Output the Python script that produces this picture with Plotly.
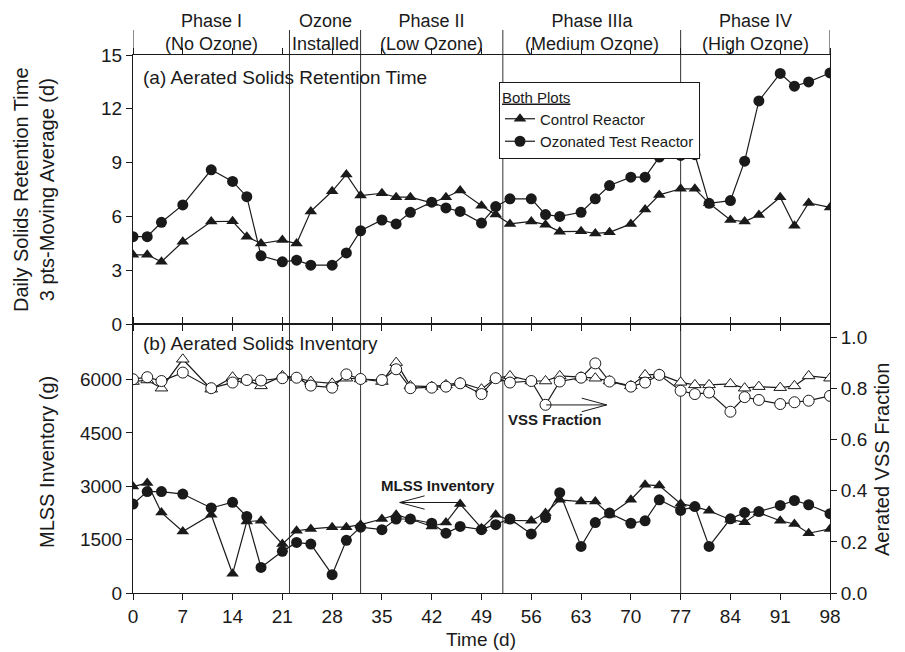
import plotly.graph_objects as go

# ---------------- data ----------------
days = [0, 2, 4, 7, 11, 14, 16, 18, 21, 23, 25, 28, 30, 32, 35, 37, 39, 42, 44, 46, 49,
        51, 53, 56, 58, 60, 63, 65, 67, 70, 72, 74, 77, 79, 81, 84, 86, 88, 91, 93, 95, 98]

srt_control = [3.86, 3.86, 3.47, 4.59, 5.71, 5.73, 4.87, 4.49, 4.68, 4.49, 6.28, 7.40, 8.34, 7.16,
               7.29, 7.07, 7.07, 6.75, 7.07, 7.44, 6.60, 6.10, 5.58, 5.72, 5.54, 5.15, 5.17, 5.05,
               5.11, 5.58, 6.38, 7.20, 7.54, 7.54, 6.73, 5.80, 5.71, 6.08, 7.07, 5.48, 6.75, 6.50]
srt_ozone = [4.87, 4.87, 5.67, 6.64, 8.60, 7.95, 7.10, 3.80, 3.47, 3.56, 3.28, 3.28, 3.96, 5.20,
             5.80, 5.58, 6.23, 6.79, 6.47, 6.28, 5.63, 6.55, 6.98, 6.98, 6.10, 6.00, 6.23, 6.98,
             7.72, 8.19, 8.19, 9.31, 9.40, 9.44, 6.73, 6.88, 9.08, 12.44, 13.97, 13.26, 13.50, 14.00]

mlss_control = [2990, 3090, 2260, 1730, 2200, 540, 2010, 2030, 1375, 1750, 1800, 1850, 1850, 1920,
                2080, 2200, 2080, 1870, 1980, 2500, 1820, 2200, 2040, 2030, 2245, 2620, 2570, 2570,
                2200, 2620, 3040, 3020, 2510, 2430, 2310, 2060, 1990, 2260, 2030, 1940, 1680, 1800]
mlss_ozone = [2500, 2850, 2850, 2780, 2390, 2550, 2150, 720, 1170, 1420, 1375, 515, 1480, 1850,
              1780, 2080, 2080, 1960, 1680, 1870, 1780, 1920, 2080, 1660, 2120, 2820, 1310, 1980,
              2245, 1960, 2030, 2620, 2320, 2430, 1310, 2085, 2260, 2290, 2460, 2600, 2480, 2230]

vss_control = [0.827, 0.833, 0.801, 0.914, 0.797, 0.844, 0.833, 0.810, 0.849, 0.842, 0.827, 0.820,
               0.840, 0.837, 0.827, 0.901, 0.810, 0.807, 0.814, 0.823, 0.797, 0.840, 0.849, 0.829,
               0.829, 0.849, 0.844, 0.840, 0.829, 0.810, 0.853, 0.855, 0.824, 0.814, 0.814, 0.818,
               0.801, 0.807, 0.803, 0.810, 0.849, 0.840]
vss_ozone = [0.836, 0.844, 0.829, 0.862, 0.801, 0.823, 0.833, 0.831, 0.840, 0.842, 0.811, 0.803,
             0.855, 0.837, 0.833, 0.875, 0.801, 0.803, 0.807, 0.820, 0.778, 0.840, 0.823, 0.829,
             0.736, 0.827, 0.842, 0.898, 0.827, 0.807, 0.823, 0.853, 0.791, 0.778, 0.784, 0.709,
             0.766, 0.755, 0.739, 0.746, 0.752, 0.771]

x_ticks = list(range(0, 99, 7))
phase_bounds = [22, 32, 52, 77]
phase_labels = ["Phase I<br>(No Ozone)", "Ozone<br>Installed", "Phase II<br>(Low Ozone)",
                "Phase IIIa<br>(Medium Ozone)", "Phase IV<br>(High Ozone)"]
phase_edges = [0, 22, 32, 52, 77, 98]

# ---------------- style ----------------
FONT = "Liberation Sans, Arial, Helvetica, sans-serif"
INK = "#1a1a1a"
W, H = 905, 652
ML, MR, MT, MB = 133, 75, 55, 59
PH = H - MT - MB

def py(pix):
    """pixel row -> paper y"""
    return (H - MB - pix) / PH

def px(pix):
    return (pix - ML) / (W - ML - MR)

line_style = dict(color=INK, width=1.2)

fig = go.Figure()

fig.add_trace(go.Scatter(x=days, y=srt_control, mode="lines+markers", name="Control Reactor",
                         line=line_style, marker=dict(symbol="triangle-up", size=11, color=INK),
                         xaxis="x", yaxis="y"))
fig.add_trace(go.Scatter(x=days, y=srt_ozone, mode="lines+markers", name="Ozonated Test Reactor",
                         line=line_style, marker=dict(symbol="circle", size=11, color=INK),
                         xaxis="x", yaxis="y"))

fig.add_trace(go.Scatter(x=days, y=vss_control, mode="lines+markers", showlegend=False,
                         line=line_style,
                         marker=dict(symbol="triangle-up", size=11, color="white",
                                     line=dict(color=INK, width=1)),
                         xaxis="x2", yaxis="y3"))
fig.add_trace(go.Scatter(x=days, y=vss_ozone, mode="lines+markers", showlegend=False,
                         line=line_style,
                         marker=dict(symbol="circle", size=11, color="white",
                                     line=dict(color=INK, width=1)),
                         xaxis="x2", yaxis="y3"))
fig.add_trace(go.Scatter(x=days, y=mlss_control, mode="lines+markers", showlegend=False,
                         line=line_style, marker=dict(symbol="triangle-up", size=11, color=INK),
                         xaxis="x2", yaxis="y2"))
fig.add_trace(go.Scatter(x=days, y=mlss_ozone, mode="lines+markers", showlegend=False,
                         line=line_style, marker=dict(symbol="circle", size=11, color=INK),
                         xaxis="x2", yaxis="y2"))

axis_common = dict(showgrid=False, zeroline=False, showline=True, linecolor=INK, linewidth=1,
                   ticks="outside", ticklen=6, tickwidth=1, tickcolor=INK,
                   tickfont=dict(family=FONT, size=19, color=INK))

fig.update_layout(
    width=W, height=H,
    margin=dict(l=ML, r=MR, t=MT, b=MB),
    paper_bgcolor="white", plot_bgcolor="white",
    font=dict(family=FONT, color=INK),
    xaxis=dict(axis_common, domain=[0, 1], anchor="y", range=[0, 98], tickvals=x_ticks,
               showticklabels=False, mirror="ticks"),
    yaxis=dict(axis_common, domain=[0.5, 1], anchor="x", range=[0, 15],
               tickvals=[0, 3, 6, 9, 12, 15], mirror=True),
    xaxis2=dict(axis_common, domain=[0, 1], anchor="y2", range=[0, 98], tickvals=x_ticks,
                mirror="ticks"),
    yaxis2=dict(axis_common, domain=[0, 0.5], anchor="x2", range=[0, 7560],
                tickvals=[0, 1500, 3000, 4500, 6000]),
    yaxis3=dict(axis_common, overlaying="y2", side="right", anchor="x2", range=[0, 1.052],
                tickvals=[0, 0.2, 0.4, 0.6, 0.8, 1.0], tickformat=".1f"),
    legend=dict(x=px(499), y=py(82), xanchor="left", yanchor="top",
                bgcolor="white", bordercolor=INK, borderwidth=1,
                font=dict(family=FONT, size=15, color=INK),
                title=dict(text="<u>Both Plots</u>", font=dict(family=FONT, size=15, color=INK)),
                tracegroupgap=0),
    showlegend=True,
)

shapes = []
for b in phase_bounds:
    shapes.append(dict(type="line", xref="x", yref="paper", x0=b, x1=b, y0=0, y1=py(30),
                       line=dict(color="#333333", width=1), layer="below"))
for b in [0, 98]:
    shapes.append(dict(type="line", xref="x", yref="paper", x0=b, x1=b, y0=1, y1=py(30),
                       line=dict(color=INK, width=1)))

# arrows (VSS Fraction -> right axis ; MLSS Inventory -> left axis)
arrow_line = dict(color=INK, width=1)
shapes += [
    dict(type="line", xref="x2", yref="y3", x0=58.1, x1=66.6, y0=0.7355, y1=0.7355, line=arrow_line),
    dict(type="line", xref="x2", yref="y3", x0=63.1, x1=66.6, y0=0.762, y1=0.7355, line=arrow_line),
    dict(type="line", xref="x2", yref="y3", x0=63.1, x1=66.6, y0=0.709, y1=0.7355, line=arrow_line),
    dict(type="line", xref="x2", yref="y2", x0=46.0, x1=37.5, y0=2543, y1=2543, line=arrow_line),
    dict(type="line", xref="x2", yref="y2", x0=41.0, x1=37.5, y0=2731, y1=2543, line=arrow_line),
    dict(type="line", xref="x2", yref="y2", x0=41.0, x1=37.5, y0=2355, y1=2543, line=arrow_line),
]
fig.update_layout(shapes=shapes)

ann = []
for i, lab in enumerate(phase_labels):
    mid = (phase_edges[i] + phase_edges[i + 1]) / 2
    ann.append(dict(xref="x", yref="paper", x=mid, y=py(32), text=lab, showarrow=False,
                    xanchor="center", yanchor="middle",
                    font=dict(family=FONT, size=18, color=INK)))

ann += [
    dict(xref="paper", yref="paper", x=px(141), y=py(77), text="(a) Aerated Solids Retention Time",
         showarrow=False, xanchor="left", yanchor="middle", font=dict(family=FONT, size=19, color=INK)),
    dict(xref="paper", yref="paper", x=px(141), y=py(343), text="(b) Aerated Solids Inventory",
         showarrow=False, xanchor="left", yanchor="middle", font=dict(family=FONT, size=19, color=INK)),
    dict(xref="paper", yref="paper", x=px(34), y=py(190),
         text="Daily Solids Retention Time<br>3 pts-Moving Average (d)", textangle=-90,
         showarrow=False, xanchor="center", yanchor="middle",
         font=dict(family=FONT, size=20, color=INK)),
    dict(xref="paper", yref="paper", x=px(47), y=py(462), text="MLSS Inventory (g)", textangle=-90,
         showarrow=False, xanchor="center", yanchor="middle",
         font=dict(family=FONT, size=20, color=INK)),
    dict(xref="paper", yref="paper", x=px(882), y=py(460), text="Aerated VSS Fraction", textangle=-90,
         showarrow=False, xanchor="center", yanchor="middle",
         font=dict(family=FONT, size=20, color=INK)),
    dict(xref="paper", yref="paper", x=px(481), y=py(640), text="Time (d)",
         showarrow=False, xanchor="center", yanchor="middle",
         font=dict(family=FONT, size=19, color=INK)),
    dict(xref="x2", yref="y3", x=59.3, y=0.677, text="<b>VSS Fraction</b>",
         showarrow=False, xanchor="center", yanchor="middle",
         font=dict(family=FONT, size=15, color=INK)),
    dict(xref="x2", yref="y2", x=42.9, y=3011, text="<b>MLSS Inventory</b>",
         showarrow=False, xanchor="center", yanchor="middle",
         font=dict(family=FONT, size=15, color=INK)),
]
fig.update_layout(annotations=ann)

fig.write_html("out.html", config={"displayModeBar": False},
               post_script="document.body.style.margin='0';")
